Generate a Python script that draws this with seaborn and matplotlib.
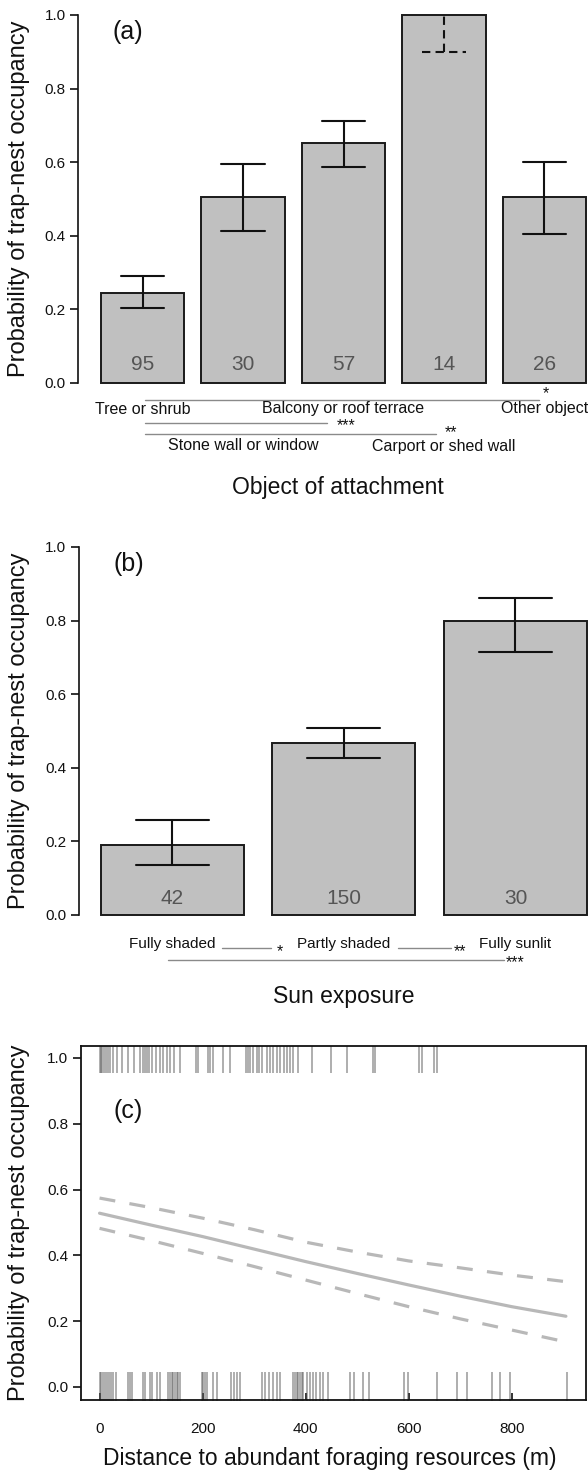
import numpy as np
import pandas as pd
import matplotlib
matplotlib.use("Agg")
import matplotlib.pyplot as plt
import seaborn as sns

# ---------------- data ----------------
attach_cats = ["Tree or shrub", "Stone wall or window", "Balcony or roof terrace",
               "Carport or shed wall", "Other object"]
attach_prob = [0.245, 0.505, 0.653, 1.0, 0.505]
attach_lo = [0.203, 0.413, 0.587, 0.90, 0.406]
attach_hi = [0.292, 0.594, 0.713, 1.0, 0.600]
attach_n = [95, 30, 57, 14, 26]

sun_cats = ["Fully shaded", "Partly shaded", "Fully sunlit"]
sun_prob = [0.190, 0.467, 0.800]
sun_lo = [0.137, 0.427, 0.716]
sun_hi = [0.258, 0.507, 0.862]
sun_n = [42, 150, 30]

dist_x = [0, 100, 200, 300, 400, 500, 600, 700, 800, 905]
fit_mid = [0.528, 0.492, 0.457, 0.419, 0.381, 0.345, 0.310, 0.276, 0.244, 0.215]
fit_hi = [0.574, 0.545, 0.513, 0.478, 0.440, 0.410, 0.383, 0.362, 0.340, 0.320]
fit_lo = [0.482, 0.445, 0.406, 0.366, 0.325, 0.284, 0.244, 0.207, 0.173, 0.137]

occupied_x = [0, 2, 5, 9, 13, 17, 21, 26, 33, 43, 56, 66, 79, 85, 88, 92, 95, 101, 110,
              117, 124, 131, 137, 144, 156, 188, 192, 211, 214, 221, 240, 253, 285, 289,
              292, 298, 305, 309, 315, 324, 331, 337, 344, 351, 357, 364, 370, 376, 386,
              412, 450, 480, 531, 535, 620, 626, 649, 654]
empty_x = [0, 2, 6, 10, 14, 19, 23, 27, 32, 56, 59, 62, 85, 88, 98, 101, 111, 117, 133,
           137, 140, 143, 146, 150, 153, 156, 198, 201, 205, 208, 221, 227, 256, 260, 266,
           273, 315, 321, 328, 337, 344, 350, 376, 379, 383, 386, 389, 392, 395, 402, 408,
           415, 421, 428, 434, 444, 486, 493, 512, 522, 590, 599, 654, 693, 713, 761, 777,
           797, 907]

# ---------------- style ----------------
sns.set_theme(style="ticks")
plt.rcParams["font.family"] = ["Liberation Sans", "DejaVu Sans"]
plt.rcParams["axes.linewidth"] = 1.2
plt.rcParams["text.color"] = "#111111"

W, H = 588, 1472
fig = plt.figure(figsize=(W / 100, H / 100), dpi=100)

BAR_C = "#c0c0c0"
EDGE = "#1a1a1a"
SIG_C = "#8a8a8a"
TXT_FS = 11.5
LAB_FS = 16.5


def fx(px):
    return px / W


def fy(py):
    return 1 - py / H


def style_bar_axes(ax):
    ax.set_ylim(0, 1)
    ax.set_yticks([0, 0.2, 0.4, 0.6, 0.8, 1.0])
    ax.set_yticklabels(["0.0", "0.2", "0.4", "0.6", "0.8", "1.0"])
    ax.tick_params(axis="y", direction="out", length=6, width=1.2, pad=3,
                   labelsize=11, colors="#111111")
    ax.tick_params(axis="x", bottom=False, labelbottom=False)
    for s in ["top", "right", "bottom"]:
        ax.spines[s].set_visible(False)
    ax.spines["left"].set_bounds(0, 1)
    ax.spines["left"].set_color("#111111")
    ax.set_xlabel("")
    ax.set_ylabel("")
    for p in ax.patches:
        p.set_clip_on(False)


def draw_errors(ax, lo, hi, capw, dashed_idx=()):
    for i, (l, h) in enumerate(zip(lo, hi)):
        ls = (0, (4, 2.5)) if i in dashed_idx else "-"
        ax.plot([i, i], [l, h], color="#111111", lw=1.5, ls=ls, clip_on=False)
        ax.plot([i - capw, i + capw], [l, l], color="#111111", lw=1.5, ls=ls, clip_on=False)
        if h < 1.0 or i not in dashed_idx:
            ax.plot([i - capw, i + capw], [h, h], color="#111111", lw=1.5, ls=ls, clip_on=False)


# ---------------- panel (a) ----------------
axa = fig.add_axes([fx(78), fy(383), fx(510), 368 / H])
dfa = pd.DataFrame({"cat": attach_cats, "p": attach_prob})
sns.barplot(data=dfa, x="cat", y="p", order=attach_cats, color=BAR_C, saturation=1,
            edgecolor=EDGE, linewidth=1.4, width=0.83, errorbar=None, ax=axa)
axa.set_xlim(-0.642, 4.433)
style_bar_axes(axa)
draw_errors(axa, attach_lo, attach_hi, 0.215, dashed_idx=(3,))
for i, n in enumerate(attach_n):
    axa.text(i, 0.049, str(n), ha="center", va="center", fontsize=15, color="#555555")
axa.text(0.068, 0.955, "(a)", transform=axa.transAxes, fontsize=18, ha="left", va="center")

ta = axa.get_xaxis_transform()
def ay(py):  # pixel -> axes fraction for panel a
    return (383 - py) / 368

for i, lab in enumerate(attach_cats):
    yy = 409 if i % 2 == 0 else 446
    axa.text(i, ay(yy), lab, transform=ta, ha="center", va="center",
             fontsize=TXT_FS, color="#111111", clip_on=False)
# significance lines
sig_a = [(0.025, 3.945, 400, 4.015, 394, "*"),
         (0.025, 1.836, 423, 2.025, 426, "***"),
         (0.025, 2.920, 434, 3.070, 433, "**")]
for x0, x1, ly, sx, sy, s in sig_a:
    axa.plot([x0, x1], [ay(ly), ay(ly)], transform=ta, color=SIG_C, lw=1.0, clip_on=False)
    axa.text(sx, ay(sy), s, transform=ta, ha="center", va="center", fontsize=11.5,
             color="#111111", clip_on=False)
fig.text(fx(338), fy(487), "Object of attachment", ha="center", va="center", fontsize=LAB_FS)
fig.text(fx(19), fy(199), "Probability of trap-nest occupancy", rotation=90,
         ha="center", va="center", fontsize=17)

# ---------------- panel (b) ----------------
axb = fig.add_axes([fx(79), fy(915), fx(509), 368 / H])
dfb = pd.DataFrame({"cat": sun_cats, "p": sun_prob})
sns.barplot(data=dfb, x="cat", y="p", order=sun_cats, color=BAR_C, saturation=1,
            edgecolor=EDGE, linewidth=1.4, width=0.834, errorbar=None, ax=axb)
axb.set_xlim(-0.545, 2.423)
style_bar_axes(axb)
draw_errors(axb, sun_lo, sun_hi, 0.213)
for i, n in enumerate(sun_n):
    axb.text(i, 0.046, str(n), ha="center", va="center", fontsize=15, color="#555555")
axb.text(0.068, 0.955, "(b)", transform=axb.transAxes, fontsize=18, ha="left", va="center")

tb = axb.get_xaxis_transform()
def by(py):
    return (915 - py) / 368

for i, lab in enumerate(sun_cats):
    axb.text(i, by(944), lab, transform=tb, ha="center", va="center",
             fontsize=11, color="#111111", clip_on=False)
sig_b = [(0.289, 0.574, 948, 0.627, 952, "*"),
         (1.315, 1.624, 948, 1.676, 952, "**"),
         (-0.026, 1.933, 960, 1.997, 963, "***")]
for x0, x1, ly, sx, sy, s in sig_b:
    axb.plot([x0, x1], [by(ly), by(ly)], transform=tb, color=SIG_C, lw=1.0, clip_on=False)
    axb.text(sx, by(sy), s, transform=tb, ha="center", va="center", fontsize=11.5,
             color="#111111", clip_on=False)
fig.text(fx(344), fy(996), "Sun exposure", ha="center", va="center", fontsize=LAB_FS)
fig.text(fx(19), fy(731), "Probability of trap-nest occupancy", rotation=90,
         ha="center", va="center", fontsize=17)

# ---------------- panel (c) ----------------
axc = fig.add_axes([fx(81), fy(1400), fx(505), 354 / H])
rug = pd.DataFrame({"x": occupied_x + empty_x,
                    "y": [1.0] * len(occupied_x) + [0.0] * len(empty_x)})
sns.scatterplot(data=rug, x="x", y="y", marker="|", s=470, linewidth=1.1,
                color="#555555", alpha=0.6, legend=False, ax=axc)
curves = pd.DataFrame({"x": dist_x, "mid": fit_mid, "hi": fit_hi, "lo": fit_lo})
sns.lineplot(data=curves, x="x", y="mid", color="#b8b8b8", lw=2.3, ax=axc)
sns.lineplot(data=curves, x="x", y="hi", color="#b8b8b8", lw=2.3, ls=(0, (5, 4.5)), ax=axc)
sns.lineplot(data=curves, x="x", y="lo", color="#b8b8b8", lw=2.3, ls=(0, (5, 4.5)), ax=axc)
axc.set_xlim(-36, 944)
axc.set_ylim(-0.0395, 1.036)
axc.set_xticks([0, 200, 400, 600, 800])
axc.set_yticks([0, 0.2, 0.4, 0.6, 0.8, 1.0])
axc.set_yticklabels(["0.0", "0.2", "0.4", "0.6", "0.8", "1.0"])
axc.tick_params(axis="x", direction="in", length=5, width=1.2, pad=16, labelsize=11,
                colors="#111111")
axc.tick_params(axis="y", direction="out", length=6, width=1.2, pad=3, labelsize=11,
                colors="#111111")
for s in axc.spines.values():
    s.set_visible(True)
    s.set_color("#111111")
    s.set_linewidth(1.3)
axc.set_xlabel("")
axc.set_ylabel("")
axc.text(0.065, 0.815, "(c)", transform=axc.transAxes, fontsize=18, ha="left", va="center")
fig.text(fx(330), fy(1458), "Distance to abundant foraging resources (m)", ha="center",
         va="center", fontsize=LAB_FS)
fig.text(fx(19), fy(1223), "Probability of trap-nest occupancy", rotation=90,
         ha="center", va="center", fontsize=17)

fig.savefig("out.png", dpi=100)
